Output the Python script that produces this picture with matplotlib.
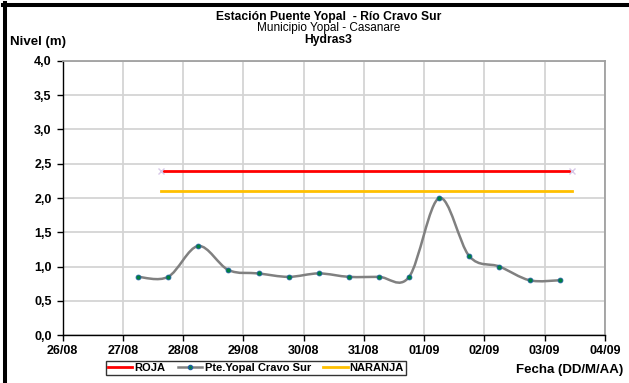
import datetime as dt
import numpy as np
import matplotlib
matplotlib.use('Agg')
import matplotlib.pyplot as plt
import matplotlib.dates as mdates
from matplotlib.path import Path
from matplotlib.patches import PathPatch
from matplotlib.lines import Line2D

plt.rcParams['font.family'] = ['Liberation Sans', 'DejaVu Sans']

# Data (readings every 12 h)
fechas = [dt.datetime(2013, 8, 27, 6), dt.datetime(2013, 8, 27, 18),
          dt.datetime(2013, 8, 28, 6), dt.datetime(2013, 8, 28, 18),
          dt.datetime(2013, 8, 29, 6), dt.datetime(2013, 8, 29, 18),
          dt.datetime(2013, 8, 30, 6), dt.datetime(2013, 8, 30, 18),
          dt.datetime(2013, 8, 31, 6), dt.datetime(2013, 8, 31, 18),
          dt.datetime(2013, 9, 1, 6), dt.datetime(2013, 9, 1, 18),
          dt.datetime(2013, 9, 2, 6), dt.datetime(2013, 9, 2, 18),
          dt.datetime(2013, 9, 3, 6)]
nivel = [0.85, 0.85, 1.3, 0.95, 0.9, 0.85, 0.9, 0.85, 0.85, 0.85,
         2.0, 1.15, 1.0, 0.8, 0.8]

umbral_fechas = [dt.datetime(2013, 8, 27, 15), dt.datetime(2013, 9, 3, 11)]
roja = [2.4, 2.4]
naranja = [2.1, 2.1]

fig = plt.figure(figsize=(6.29, 3.83), dpi=100)
ax = fig.add_axes([0.0997, 0.125, 0.862, 0.716])

# Threshold lines
ax.plot(umbral_fechas, roja, color='#FF0000', lw=2, marker='x', ms=4,
        markeredgecolor='#D8C8E8', zorder=3)
ax.plot(umbral_fechas, naranja, color='#FFC000', lw=2, zorder=3)

# Smoothed series (Excel-like bezier through the points)
xs = mdates.date2num(fechas)
ys = np.array(nivel)
pts = np.column_stack([xs, ys])
verts = [pts[0]]
codes = [Path.MOVETO]
n = len(pts)
for i in range(n - 1):
    p0 = pts[i - 1] if i > 0 else pts[i]
    p1 = pts[i]
    p2 = pts[i + 1]
    p3 = pts[i + 2] if i + 2 < n else pts[i + 1]
    c1 = p1 + (p2 - p0) / 6.0
    c2 = p2 - (p3 - p1) / 6.0
    verts += [c1, c2, p2]
    codes += [Path.CURVE4] * 3
ax.add_patch(PathPatch(Path(verts, codes), fill=False, edgecolor='#808080',
                       lw=1.8, zorder=4))
ax.plot(fechas, nivel, linestyle='none', marker='o', ms=3.5,
        markerfacecolor='#008040', markeredgecolor='#2060A0',
        markeredgewidth=0.6, zorder=5)

ax.set_ylim(0, 4)
ax.set_yticks(np.arange(0, 4.01, 0.5))
ax.set_yticklabels([f'{v:.1f}'.replace('.', ',') for v in np.arange(0, 4.01, 0.5)])
ax.set_xlim(dt.datetime(2013, 8, 26), dt.datetime(2013, 9, 4))
ax.xaxis.set_major_locator(mdates.DayLocator())
ax.xaxis.set_major_formatter(mdates.DateFormatter('%d/%m'))

ax.grid(True, color='#D4D4D4', lw=1.3)
ax.set_axisbelow(True)
for s in ['top', 'right']:
    ax.spines[s].set_color('#A0A0A0')
    ax.spines[s].set_linewidth(1.3)
for s in ['left', 'bottom']:
    ax.spines[s].set_color('black')
    ax.spines[s].set_linewidth(1.0)
ax.tick_params(axis='both', labelsize=9, length=4, width=1)
ax.tick_params(axis='y', pad=4)
ax.tick_params(axis='x', pad=3)
for lbl in ax.get_xticklabels() + ax.get_yticklabels():
    lbl.set_fontweight('bold')

# Titles
fig.text(0.522, 1 - 17 / 383, 'Estación Puente Yopal  - Río Cravo Sur',
         ha='center', va='center', fontsize=8.7, fontweight='bold')
fig.text(0.522, 1 - 28.5 / 383, 'Municipio Yopal - Casanare',
         ha='center', va='center', fontsize=8.5)
fig.text(0.522, 1 - 40 / 383, 'Hydras3',
         ha='center', va='center', fontsize=8.7, fontweight='bold')
fig.text(10 / 629, 1 - 42 / 383, 'Nivel (m)', ha='left', va='center',
         fontsize=9.5, fontweight='bold')
fig.text(623 / 629, 1 - 370 / 383, 'Fecha (DD/M/AA)', ha='right', va='center',
         fontsize=9.5, fontweight='bold')

# Legend
handles = [Line2D([], [], color='#FF0000', lw=2),
           Line2D([], [], color='#808080', lw=1.8, marker='o', ms=3,
                  markerfacecolor='#008040', markeredgecolor='#2060A0'),
           Line2D([], [], color='#FFC000', lw=2)]
leg = fig.legend(handles, ['ROJA', 'Pte.Yopal Cravo Sur', 'NARANJA'],
                 loc='center', bbox_to_anchor=(256 / 629, 1 - 368 / 383),
                 ncol=3, frameon=True, fancybox=False,
                 handlelength=2.2, handletextpad=0.2, columnspacing=1.1,
                 borderpad=0.2, prop={'weight': 'bold', 'size': 8})
leg.get_frame().set_edgecolor('black')
leg.get_frame().set_linewidth(1.0)

# Black frame on left and top of the figure
fig.add_artist(Line2D([5 / 629, 5 / 629], [0, 1 - 3 / 383], color='black',
                      lw=2.9, transform=fig.transFigure))
fig.add_artist(Line2D([3 / 629, 1], [1 - 5 / 383, 1 - 5 / 383], color='black',
                      lw=2.9, transform=fig.transFigure))

fig.savefig('out.png', dpi=100)
